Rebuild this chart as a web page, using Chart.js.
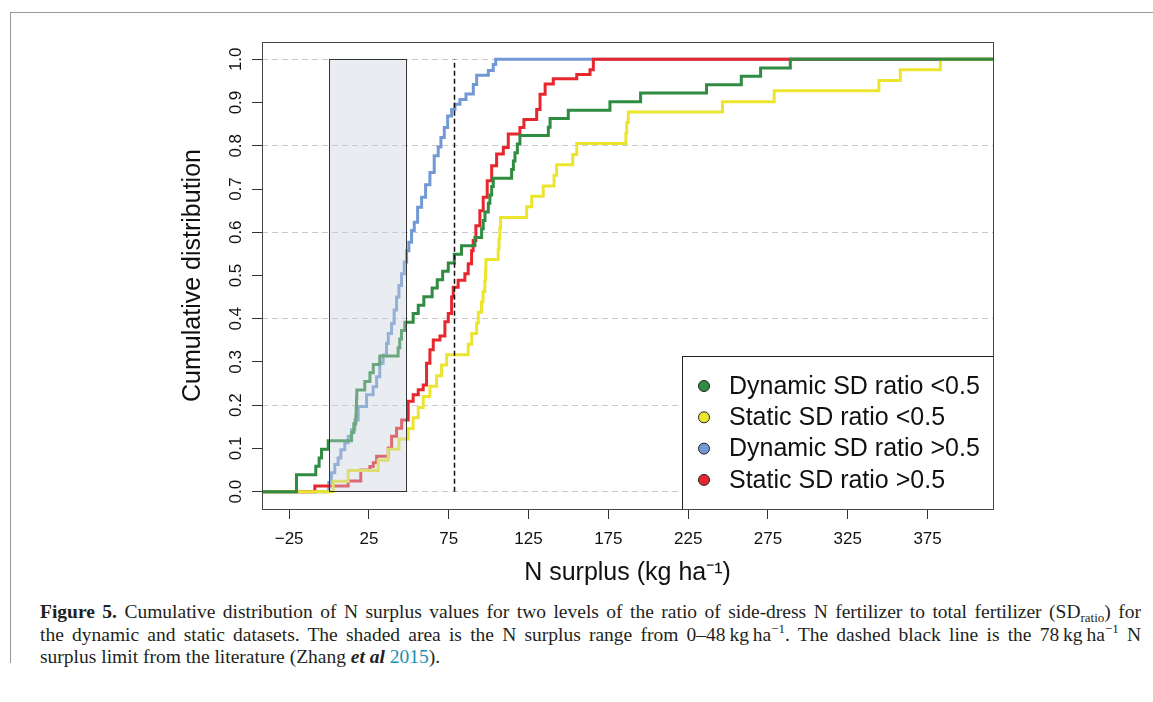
<!DOCTYPE html>
<html>
<head>
<meta charset="utf-8">
<script src="https://cdn.jsdelivr.net/npm/chart.js@4.4.1/dist/chart.umd.min.js"></script>
<style>
  body { margin: 0; background: #fff; width: 1153px; height: 702px; overflow: hidden; position: relative; }
  #frame { position: absolute; left: 10px; top: 12px; width: 1143px; height: 650px; border-top: 1px solid #999; border-left: 1px solid #999; }
  #c { position: absolute; left: 0; top: 0; }
  #caption { position: absolute; left: 40px; top: 601px; width: 1101px; font-family: "Liberation Serif", serif; font-size: 19.5px; line-height: 22.5px; color: #231f20; white-space: nowrap; }
  #caption div { text-align: justify; text-align-last: justify; }
  #caption div.last { text-align-last: left; }
  #caption sub { font-size: 13px; line-height: 0; vertical-align: -4px; }
  #caption sup { font-size: 13px; line-height: 0; vertical-align: 8px; }
  #caption .ref { color: #1a8fb5; }
</style>
</head>
<body>
<div id="frame"></div>
<canvas id="c" width="1153" height="590"></canvas>
<div id="caption">
  <div><b>Figure 5.</b> Cumulative distribution of N surplus values for two levels of the ratio of side-dress N fertilizer to total fertilizer (SD<sub>ratio</sub>) for</div>
  <div>the dynamic and static datasets. The shaded area is the N surplus range from 0–48&#8201;kg&#8201;ha<sup>−1</sup>. The dashed black line is the 78&#8201;kg&#8201;ha<sup>−1</sup> N</div>
  <div class="last">surplus limit from the literature (Zhang <b><i>et al</i></b> <span class="ref">2015</span>).</div>
</div>
<script>
// axes
const xTicks = [-25, 25, 75, 125, 175, 225, 275, 325, 375];
const yTicks = [0, 0.1, 0.2, 0.3, 0.4, 0.5, 0.6, 0.7, 0.8, 0.9, 1.0];
const xRange = [-42, 416];
const yRange = [-0.04, 1.04];
const shadeRange = [0, 48];
const surplusLimit = 78;

const labels = ["Dynamic SD ratio <0.5", "Static SD ratio <0.5", "Dynamic SD ratio >0.5", "Static SD ratio >0.5"];
const colors = ["#2f8c42", "#ece52e", "#7399d4", "#e8262e"];

// step points of each cumulative curve (N surplus, cumulative fraction)
const dynLowX = [-42, -20.4, -8.3, -6.2, -4.7, -0.5, 14.1, 15.5, 16.8, 17, 17.2, 17.4, 22.4, 25.6, 27.7, 31.8, 43.3, 44.3, 45.4, 47.5, 52.7, 55.9, 59.4, 64.6, 67.8, 71.2, 74.7, 78.5, 83, 91.4, 95.6, 96.6, 97.7, 99.8, 100.8, 101.9, 102.9, 114.4, 115.5, 116.5, 118, 119.6, 137.4, 138.5, 149.9, 176, 195.2, 236.5, 258.3, 270.4, 289, 416];
const dynLowY = [0, 0.039, 0.059, 0.078, 0.098, 0.118, 0.137, 0.157, 0.176, 0.196, 0.216, 0.235, 0.255, 0.275, 0.294, 0.314, 0.333, 0.353, 0.373, 0.392, 0.412, 0.431, 0.451, 0.471, 0.490, 0.510, 0.529, 0.549, 0.569, 0.588, 0.608, 0.627, 0.647, 0.667, 0.686, 0.706, 0.725, 0.745, 0.765, 0.784, 0.804, 0.824, 0.843, 0.863, 0.882, 0.902, 0.922, 0.941, 0.961, 0.980, 1.0, 1.0];

const statLowX = [-42, 2.6, 12, 30.8, 37.1, 43.8, 49.6, 52.7, 55.9, 59, 63.2, 67.4, 70.5, 73.7, 87.2, 89.4, 92.5, 93.5, 95.5, 96.5, 97.6, 98, 98.3, 106, 106.5, 107, 107.5, 123.8, 127, 134.2, 141, 142.6, 152.7, 155.2, 186, 186.5, 187.5, 246.5, 278.9, 344.5, 357.9, 383, 416];
const statLowY = [0, 0.024, 0.049, 0.073, 0.098, 0.122, 0.146, 0.171, 0.195, 0.220, 0.244, 0.268, 0.293, 0.317, 0.341, 0.366, 0.390, 0.415, 0.439, 0.463, 0.488, 0.512, 0.537, 0.561, 0.585, 0.610, 0.634, 0.659, 0.683, 0.707, 0.732, 0.756, 0.780, 0.805, 0.829, 0.854, 0.878, 0.902, 0.927, 0.951, 0.976, 1.0, 1.0];

const dynHighX = [-42, -0.1, 1.5, 3.6, 5.7, 7.4, 9.9, 12, 14.1, 16.2, 18.3, 23.5, 27.6, 29.8, 31.8, 33.9, 36, 37.1, 39.2, 40.8, 42.3, 43.8, 45.4, 47.1, 48.6, 50, 51.7, 53.4, 55.5, 58, 60.5, 63.2, 65.9, 68.4, 70.1, 72.2, 74.3, 76.8, 78.9, 82, 85.8, 90.4, 92.5, 99.8, 102.9, 104.4, 416];
const dynHighY = [0, 0.021, 0.044, 0.063, 0.078, 0.097, 0.113, 0.128, 0.143, 0.166, 0.197, 0.224, 0.243, 0.266, 0.297, 0.316, 0.343, 0.366, 0.389, 0.420, 0.450, 0.477, 0.504, 0.531, 0.557, 0.577, 0.604, 0.623, 0.658, 0.681, 0.710, 0.738, 0.777, 0.797, 0.819, 0.842, 0.869, 0.884, 0.896, 0.907, 0.920, 0.942, 0.963, 0.974, 0.988, 1.0, 1.0];

const statHighX = [-42, -8.9, 12, 19.9, 25.6, 27.7, 29.8, 37.1, 39.2, 42.3, 45.5, 49.6, 52.7, 55.9, 59, 61.1, 63.2, 65.3, 69.5, 72.6, 74.7, 76.8, 77.8, 80.9, 85.1, 87.2, 89.3, 90.3, 92, 94.5, 96.6, 99.1, 101.9, 105, 109.2, 112.3, 119.6, 122.1, 130.1, 132.2, 135.4, 140.5, 155.2, 163.5, 165.6, 416];
const statHighY = [0, 0.013, 0.025, 0.050, 0.058, 0.067, 0.082, 0.101, 0.128, 0.147, 0.166, 0.209, 0.224, 0.236, 0.247, 0.297, 0.328, 0.351, 0.360, 0.393, 0.412, 0.450, 0.473, 0.489, 0.504, 0.527, 0.557, 0.581, 0.615, 0.650, 0.681, 0.719, 0.754, 0.781, 0.796, 0.827, 0.842, 0.861, 0.884, 0.919, 0.943, 0.955, 0.965, 0.976, 1.0, 1.0];

function serie(xs, ys) {
  return xs.map((x, i) => ({ x: x, y: ys[i] }));
}

const fontFamily = "'Liberation Sans', Arial, sans-serif";

// shaded range, limit line, plot box and legend
const extras = {
  id: "extras",
  afterDraw(chart) {
    const { ctx, chartArea: a, scales: { x, y } } = chart;
    const x0 = x.getPixelForValue(shadeRange[0]);
    const x1 = x.getPixelForValue(shadeRange[1]);
    const y0 = y.getPixelForValue(0);
    const y1 = y.getPixelForValue(1);
    ctx.save();
    ctx.fillStyle = "rgba(200,210,220,0.4)";
    ctx.fillRect(x0, y1, x1 - x0, y0 - y1);
    ctx.strokeStyle = "#333";
    ctx.lineWidth = 1;
    ctx.strokeRect(Math.round(x0) + 0.5, Math.round(y1) + 0.5, Math.round(x1 - x0), Math.round(y0 - y1));

    const xl = Math.round(x.getPixelForValue(surplusLimit)) + 0.5;
    ctx.setLineDash([5, 3]);
    ctx.lineWidth = 1.5;
    ctx.strokeStyle = "#111";
    ctx.beginPath();
    ctx.moveTo(xl, y0);
    ctx.lineTo(xl, y1);
    ctx.stroke();
    ctx.setLineDash([]);

    // legend
    const lw = 311, lh = 153;
    const lx = a.right - lw, ly = a.bottom - lh;
    ctx.fillStyle = "#fff";
    ctx.fillRect(lx, ly, lw, lh);
    ctx.strokeStyle = "#222";
    ctx.lineWidth = 1;
    ctx.strokeRect(lx + 0.5, ly + 0.5, lw, lh);
    ctx.font = "25px " + fontFamily;
    ctx.textBaseline = "middle";
    ctx.textAlign = "left";
    labels.forEach((lab, i) => {
      const cy = ly + 30 + i * 31.3;
      ctx.beginPath();
      ctx.arc(lx + 22, cy, 5.5, 0, Math.PI * 2);
      ctx.fillStyle = colors[i];
      ctx.fill();
      ctx.strokeStyle = "#222";
      ctx.stroke();
      ctx.fillStyle = "#111";
      ctx.fillText(lab, lx + 47, cy + 1);
    });

    // plot box
    ctx.strokeStyle = "#444";
    ctx.lineWidth = 1;
    ctx.strokeRect(a.left + 0.5, a.top + 0.5, a.width, a.height);
    ctx.restore();
  }
};

const series = [serie(dynLowX, dynLowY), serie(statLowX, statLowY), serie(dynHighX, dynHighY), serie(statHighX, statHighY)];
const drawOrder = [0, 1, 3, 2];

new Chart(document.getElementById("c"), {
  type: "line",
  data: {
    datasets: series.map((d, i) => ({
      label: labels[i],
      data: d,
      borderColor: colors[i],
      borderWidth: 3,
      pointRadius: 0,
      stepped: "before",
      fill: false,
      order: drawOrder[i]
    }))
  },
  options: {
    responsive: false,
    devicePixelRatio: 1,
    animation: false,
    events: [],
    layout: { padding: { left: 0, top: 42, right: 160, bottom: 0 } },
    plugins: { legend: { display: false }, tooltip: { enabled: false } },
    scales: {
      x: {
        type: "linear",
        min: xRange[0],
        max: xRange[1],
        afterBuildTicks: s => { s.ticks = xTicks.map(v => ({ value: v })); },
        afterFit: s => { s.height = 81; },
        ticks: {
          minRotation: 0,
          maxRotation: 0,
          padding: 10,
          color: "#111",
          font: { family: fontFamily, size: 17 },
          callback: v => (v < 0 ? "\u2212" + Math.abs(v) : String(v))
        },
        grid: { drawOnChartArea: false, tickColor: "#333", tickLength: 10 },
        border: { display: false },
        title: {
          display: true,
          text: "N surplus (kg ha\u207B\u00B9)",
          color: "#111",
          font: { family: fontFamily, size: 25 },
          padding: { top: 0, bottom: 2 }
        }
      },
      y: {
        type: "linear",
        min: yRange[0],
        max: yRange[1],
        z: 1,
        afterBuildTicks: s => { s.ticks = yTicks.map(v => ({ value: v })); },
        afterFit: s => { s.width = 262; },
        ticks: {
          minRotation: 90,
          maxRotation: 90,
          crossAlign: "center",
          padding: 4,
          color: "#111",
          font: { family: fontFamily, size: 17 },
          callback: v => v.toFixed(1)
        },
        grid: {
          color: c => (c.tick && Math.round(c.tick.value * 10) % 2 === 0 ? "#c8c8c8" : "rgba(0,0,0,0)"),
          tickColor: "#333",
          tickLength: 10,
          lineWidth: 1
        },
        border: { display: false, dash: [6, 4] },
        title: {
          display: true,
          text: "Cumulative distribution",
          color: "#111",
          font: { family: fontFamily, size: 25 },
          padding: { top: 178, bottom: 0 }
        }
      }
    }
  },
  plugins: [extras]
});
</script>
</body>
</html>
